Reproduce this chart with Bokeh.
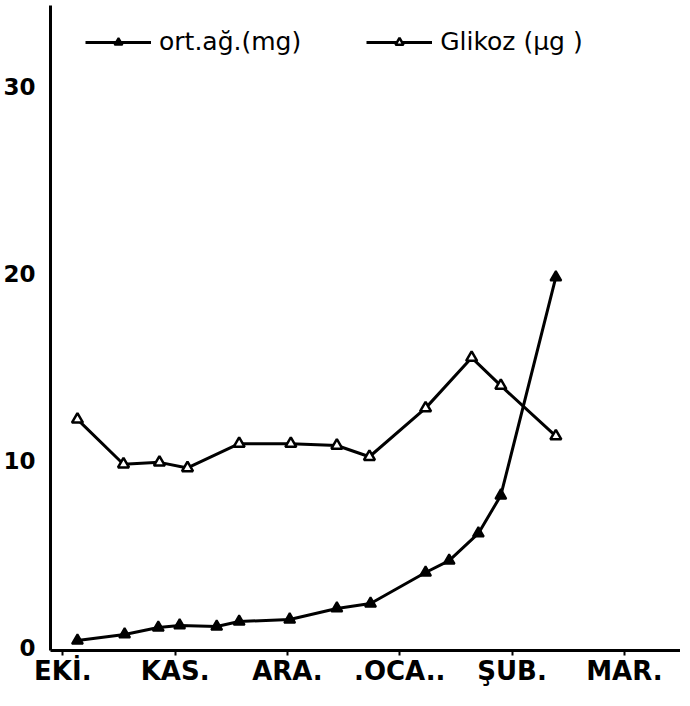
from bokeh.plotting import figure
from bokeh.models import FixedTicker, Legend, LegendItem, Range1d
from bokeh.embed import file_html
from bokeh.resources import INLINE

# --- data ---
month_labels = ["EKİ.", "KAS.", "ARA.", ".OCA..", "ŞUB.", "MAR."]
month_pos = [0, 1, 2, 3, 4, 5]
y_ticks = [0, 10, 20, 30]

# ortalama ağırlık (mg) - filled triangles
weight_x = [0.13, 0.55, 0.85, 1.04, 1.37, 1.57, 2.02, 2.44, 2.74, 3.23, 3.44, 3.70, 3.90, 4.39]
weight_y = [0.37, 0.70, 1.07, 1.18, 1.12, 1.39, 1.50, 2.09, 2.35, 4.01, 4.65, 6.10, 8.13, 19.8]

# Glikoz (µg) - open triangles
glucose_x = [0.13, 0.54, 0.86, 1.11, 1.57, 2.03, 2.44, 2.73, 3.23, 3.64, 3.90, 4.39]
glucose_y = [12.2, 9.8, 9.9, 9.6, 10.9, 10.9, 10.8, 10.2, 12.8, 15.5, 14.0, 11.3]

p = figure(width=680, height=690, output_backend="svg", toolbar_location=None,
           x_range=Range1d(-0.11, 5.5), y_range=Range1d(-0.16, 34.33),
           min_border_left=42, min_border_right=0, min_border_top=5, min_border_bottom=40)

p.xgrid.visible = False
p.ygrid.visible = False
p.outline_line_color = None
p.background_fill_color = "white"

for ax in (p.xaxis[0], p.yaxis[0]):
    ax.axis_line_width = 3
    ax.axis_line_color = "black"
    ax.minor_tick_line_color = None
    ax.major_label_text_color = "black"

p.yaxis.ticker = FixedTicker(ticks=y_ticks)
p.yaxis.major_tick_line_color = None
p.yaxis.major_label_standoff = 9
p.yaxis.major_label_text_font = "DejaVu Sans"
p.yaxis.major_label_text_font_style = "bold"
p.yaxis.major_label_text_font_size = "23px"

p.xaxis.ticker = FixedTicker(ticks=month_pos)
p.xaxis.major_label_overrides = {m: lab for m, lab in zip(month_pos, month_labels)}
p.xaxis.major_tick_line_width = 2
p.xaxis.major_tick_in = 0
p.xaxis.major_tick_out = 5
p.xaxis.major_label_standoff = 0
p.xaxis.major_label_text_font = "DejaVu Sans"
p.xaxis.major_label_text_font_style = "bold"
p.xaxis.major_label_text_font_size = "26px"

r_w_line = p.line(weight_x, weight_y, line_color="black", line_width=3)
r_w_pts = p.scatter(weight_x, weight_y, marker="triangle", size=11,
                    fill_color="black", line_color="black", line_width=2)

r_g_line = p.line(glucose_x, glucose_y, line_color="black", line_width=3)
r_g_pts = p.scatter(glucose_x, glucose_y, marker="triangle", size=11,
                    fill_color="white", line_color="black", line_width=2.5)

legend = Legend(items=[
    LegendItem(label="ort.ağ.(mg)", renderers=[r_w_line, r_w_pts]),
    LegendItem(label="Glikoz (µg )", renderers=[r_g_line, r_g_pts]),
], location=(35, 594), orientation="horizontal")
legend.margin = 0
legend.padding = 5
legend.spacing = 65
legend.glyph_width = 66
legend.label_standoff = 8
legend.label_text_font = "DejaVu Sans"
legend.label_text_font_size = "25px"
legend.label_text_color = "black"
legend.border_line_color = None
legend.background_fill_alpha = 0
p.add_layout(legend)

open("out.html", "w").write(file_html(p, INLINE))
